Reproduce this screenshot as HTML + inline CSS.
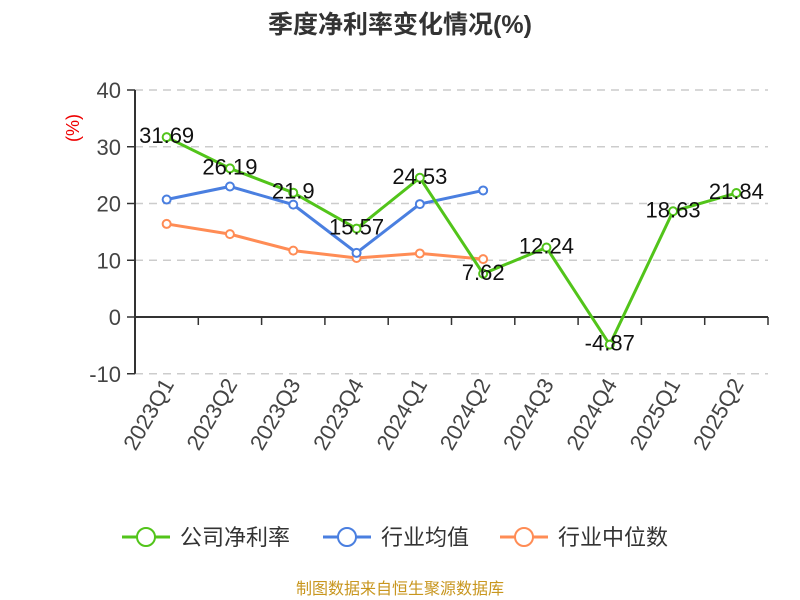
<!DOCTYPE html>
<html><head><meta charset="utf-8"><style>
body{margin:0;background:#fff;}
svg{display:block;font-family:"Liberation Sans","Noto Sans CJK SC",sans-serif;}
</style></head><body>
<svg id="chart" width="800" height="600">
<text x="400" y="33" text-anchor="middle" font-size="25" font-weight="bold" fill="#333">季度净利率变化情况(%)</text>
<text x="0" y="0" transform="translate(79,128) rotate(-90)" text-anchor="middle" font-size="18" fill="#e00">(%)</text>
<g id="grid"></g><g id="axes"></g><g id="series"></g>
<g>
<g><line x1="122" y1="537" x2="170" y2="537" stroke="#52c41a" stroke-width="3"/><circle cx="146" cy="537" r="9" fill="#fff" stroke="#52c41a" stroke-width="2"/><text x="180" y="545" font-size="22" fill="#333">公司净利率</text></g>
<g><line x1="323" y1="537" x2="371" y2="537" stroke="#4a7fe0" stroke-width="3"/><circle cx="347" cy="537" r="9" fill="#fff" stroke="#4a7fe0" stroke-width="2"/><text x="381" y="545" font-size="22" fill="#333">行业均值</text></g>
<g><line x1="500" y1="537" x2="548" y2="537" stroke="#ff8c55" stroke-width="3"/><circle cx="524" cy="537" r="9" fill="#fff" stroke="#ff8c55" stroke-width="2"/><text x="558" y="545" font-size="22" fill="#333">行业中位数</text></g>
</g>
<text x="400" y="594" text-anchor="middle" font-size="16" fill="#c8961e">制图数据来自恒生聚源数据库</text>
</svg>
<script>
const categories=["2023Q1","2023Q2","2023Q3","2023Q4","2024Q1","2024Q2","2024Q3","2024Q4","2025Q1","2025Q2"];
const companyValues=[31.69,26.19,21.9,15.57,24.53,7.62,12.24,-4.87,18.63,21.84];
const industryAvg=[20.7,23.0,19.8,11.3,19.9,22.3];
const industryMedian=[16.4,14.6,11.7,10.4,11.2,10.2];
const yTicks=[40,30,20,10,0,-10];
const NS="http://www.w3.org/2000/svg";
const X0=135,X1=768,Y40=90,Y0=317;
const bw=(X1-X0)/categories.length;
const xs=i=>X0+bw*(i+0.5);
const ys=v=>Y0-(v/40)*(Y0-Y40);
function mk(tag,attrs,parent){const e=document.createElementNS(NS,tag);for(const k in attrs)e.setAttribute(k,attrs[k]);parent.appendChild(e);return e;}
const grid=document.getElementById('grid'),axes=document.getElementById('axes'),ser=document.getElementById('series');
yTicks.forEach(t=>{
  if(t!==0){const l=mk('line',{x1:X0,x2:X1,y1:ys(t),y2:ys(t),stroke:'#ccc','stroke-dasharray':'8,6','stroke-width':1.5},grid);
  
  }
  const tk=mk('line',{x1:X0-8,x2:X0,y1:ys(t),y2:ys(t),stroke:'#333','stroke-width':1.5},axes);
  
  
  const tx=mk('text',{x:X0-14,y:ys(t)+8,'text-anchor':'end','font-size':22,fill:'#444'},axes);tx.textContent=t;
  
  
});
const ya=mk('line',{x1:X0,x2:X0,y1:ys(yTicks[0]),y2:ys(yTicks[yTicks.length-1]),stroke:'#333','stroke-width':2},axes);


const xa=mk('line',{x1:X0,x2:X1,y1:Y0,y2:Y0,stroke:'#333','stroke-width':2},axes);


for(let i=0;i<=categories.length;i++){const t=mk('line',{x1:X0+bw*i,x2:X0+bw*i,y1:Y0,y2:Y0+8,stroke:'#333','stroke-width':1.5},axes);

}
categories.forEach((c,i)=>{const t=mk('text',{x:0,y:0,transform:`translate(${xs(i)+8},${384}) rotate(-60)`,'text-anchor':'end','font-size':22,fill:'#444'},axes);t.textContent=c;

});
function series(vals,color,name,labels){
  const g=mk('g',{},ser);
  
  
  const p=mk('polyline',{points:vals.map((v,i)=>xs(i)+','+ys(v)).join(' '),fill:'none',stroke:color,'stroke-width':3},g);
  
  
  vals.forEach((v,i)=>{const c=mk('circle',{cx:xs(i),cy:ys(v),r:4,fill:'#fff',stroke:color,'stroke-width':2},g);
    
    
    if(labels){const t=mk('text',{x:xs(i),y:ys(v)+6,'text-anchor':'middle','font-size':22,fill:'#111'},g);t.textContent=v;
    
    }
  });
}
series(industryMedian,'#ff8c55','industry-median-series',false);
series(industryAvg,'#4a7fe0','industry-avg-series',false);
series(companyValues,'#52c41a','company-series',true);
</script>
</body></html>
